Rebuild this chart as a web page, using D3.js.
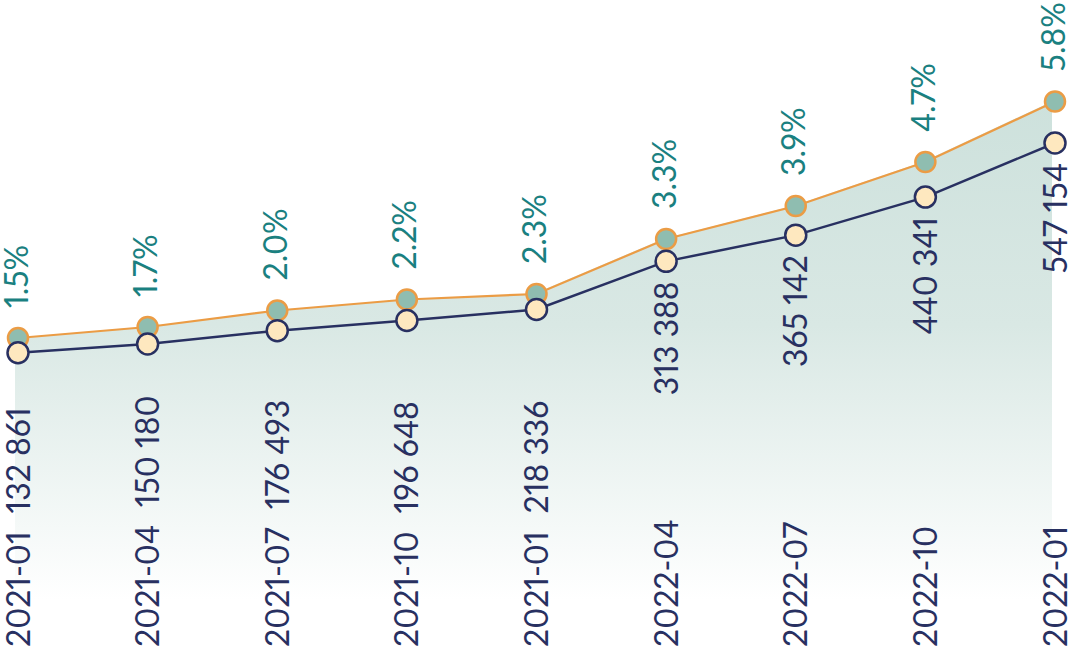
<!DOCTYPE html>
<html>
<head>
<meta charset="utf-8">
<script src="https://cdn.jsdelivr.net/npm/d3@7"></script>
<style>
  html, body { margin: 0; padding: 0; background: #fff; }
  #chart svg { display: block; }
  #chart text { font-variant-numeric: proportional-nums; }
</style>
</head>
<body>
<div id="chart"></div>
<script>
const dates = ["2021-01", "2021-04", "2021-07", "2021-10", "2021-01", "2022-04", "2022-07", "2022-10", "2022-01"];
const counts = [132861, 150180, 176493, 196648, 218336, 313388, 365142, 440341, 547154];
const shares = [1.5, 1.7, 2.0, 2.2, 2.3, 3.3, 3.9, 4.7, 5.8];

const COLORS = {
  navy: "#283061",
  orange: "#eb9c45",
  tealDot: "#8fbdb0",
  cream: "#fee8bf",
  tealText: "#1a8080",
  areaTop: "#cde1dc",
};

const width = 1071;
const height = 653;
const fontFamily = "Lato, 'Open Sans', sans-serif";
const fontSize = 32;

const data = dates.map((d, i) => ({ date: d, count: counts[i], share: shares[i] }));

const formatCount = (v) => d3.format(",")(v).replace(/,/g, " ");
const formatShare = (v) => d3.format(".1f")(v) + "%";

const svg = d3
  .select("#chart")
  .append("svg")
  .attr("width", width)
  .attr("height", height)
  .attr("viewBox", `0 0 ${width} ${height}`);

const x = d3.scalePoint().domain(d3.range(data.length)).range([18, 1055]);
const yShare = d3.scaleLinear().domain([0, 5.8]).range([420.5, 101.5]);
const yCount = d3.scaleLinear().domain([0, 547154]).range([420, 143]);

const defs = svg.append("defs");
const grad = defs
  .append("linearGradient")
  .attr("id", "area-fade")
  .attr("gradientUnits", "userSpaceOnUse")
  .attr("x1", 0)
  .attr("x2", 0)
  .attr("y1", 100)
  .attr("y2", 600);
grad.append("stop").attr("offset", 0).attr("stop-color", COLORS.areaTop);
grad.append("stop").attr("offset", 0.45).attr("stop-color", "#d9e8e4");
grad.append("stop").attr("offset", 1).attr("stop-color", "#ffffff");

const area = d3
  .area()
  .x((d, i) => x(i))
  .y0(height)
  .y1((d) => yShare(d.share));

svg
  .append("path")
  .datum(data)
  .attr("fill", "url(#area-fade)")
  .attr("transform", "translate(-3,0)")
  .attr("d", area);

const shareLine = d3.line().x((d, i) => x(i)).y((d) => yShare(d.share));
const countLine = d3.line().x((d, i) => x(i)).y((d) => yCount(d.count));

svg
  .append("path")
  .datum(data)
  .attr("fill", "none")
  .attr("stroke", COLORS.orange)
  .attr("stroke-width", 2.2)
  .attr("d", shareLine);

svg
  .append("path")
  .datum(data)
  .attr("fill", "none")
  .attr("stroke", COLORS.navy)
  .attr("stroke-width", 2.5)
  .attr("d", countLine);

svg
  .append("g")
  .selectAll("circle")
  .data(data)
  .join("circle")
  .attr("cx", (d, i) => x(i))
  .attr("cy", (d) => yShare(d.share))
  .attr("r", 10)
  .attr("fill", COLORS.tealDot)
  .attr("stroke", COLORS.orange)
  .attr("stroke-width", 2.5);

svg
  .append("g")
  .selectAll("circle")
  .data(data)
  .join("circle")
  .attr("cx", (d, i) => x(i))
  .attr("cy", (d) => yCount(d.count))
  .attr("r", 10.5)
  .attr("fill", COLORS.cream)
  .attr("stroke", COLORS.navy)
  .attr("stroke-width", 2.5);

function rotatedText(g, px, py) {
  return g
    .append("text")
    .attr("transform", `translate(${px},${py}) rotate(-90)`)
    .attr("dy", "0.36em")
    .attr("font-family", fontFamily)
    .attr("font-size", fontSize)
    .attr("font-weight", 400);
}

const labels = svg.append("g");

data.forEach((d, i) => {
  // share label above the orange dot
  rotatedText(labels, x(i) - 2, yShare(d.share) - 30)
    .attr("fill", COLORS.tealText)
    .attr("text-anchor", "start")
    .text(formatShare(d.share));

  const dateLabel = rotatedText(labels, x(i), 647)
    .attr("fill", COLORS.navy)
    .attr("text-anchor", "start")
    .text(d.date);

  // 2021 points sit too low for a separate count label, so it runs on after the date
  if (d.date.startsWith("2021")) {
    dateLabel.append("tspan").attr("dx", 18).text(formatCount(d.count));
  } else {
    rotatedText(labels, x(i), yCount(d.count) + 20)
      .attr("fill", COLORS.navy)
      .attr("text-anchor", "end")
      .text(formatCount(d.count));
  }
});
</script>
</body>
</html>
